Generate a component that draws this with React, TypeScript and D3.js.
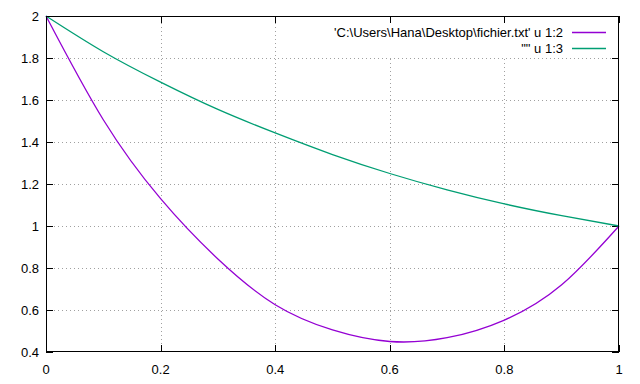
import * as d3 from "d3";
import { useEffect, useRef } from "react";

const xValues = [0, 0.1, 0.2, 0.3, 0.4, 0.5, 0.6, 0.7, 0.8, 0.9, 1.0];
const col2 = [2.0, 1.506, 1.13, 0.843, 0.625, 0.505, 0.45, 0.468, 0.552, 0.72, 1.0];
const col3 = [2.0, 1.83, 1.685, 1.555, 1.443, 1.34, 1.25, 1.172, 1.105, 1.049, 1.0];
const xTicks = [0, 0.2, 0.4, 0.6, 0.8, 1];
const yTicks = [0.4, 0.6, 0.8, 1, 1.2, 1.4, 1.6, 1.8, 2];
const seriesNames = ["'C:\\Users\\Hana\\Desktop\\fichier.txt' u 1:2", "\"\" u 1:3"];
const seriesColors = ["#9400d3", "#009e73"];

const App = () => {
  const ref = useRef<SVGSVGElement | null>(null);

  useEffect(() => {
    const svg = d3.select(ref.current);
    svg.selectAll("*").remove();

    const width = 640;
    const height = 384;
    const margin = { top: 16, right: 21, bottom: 32, left: 46 };
    const font = "'Liberation Sans', Arial, sans-serif";
    const fontSize = "13px";

    const x = d3.scaleLinear().domain([0, 1]).range([margin.left, width - margin.right]);
    const y = d3.scaleLinear().domain([0.4, 2]).range([height - margin.bottom, margin.top]);

    const [x0, x1] = x.range();
    const [y0, y1] = y.range();

    // grid
    const grid = svg.append("g").attr("stroke", "#a0a0a0").attr("stroke-dasharray", "1,3");
    grid
      .selectAll("line.gx")
      .data(xTicks.slice(1, -1))
      .enter()
      .append("line")
      .attr("x1", (d) => Math.round(x(d)) + 0.5)
      .attr("x2", (d) => Math.round(x(d)) + 0.5)
      .attr("y1", y0)
      .attr("y2", y1);
    grid
      .selectAll("line.gy")
      .data(yTicks.slice(1, -1))
      .enter()
      .append("line")
      .attr("x1", x0)
      .attr("x2", x1)
      .attr("y1", (d) => Math.round(y(d)) + 0.5)
      .attr("y2", (d) => Math.round(y(d)) + 0.5);

    // key background hides the grid behind it
    svg
      .append("rect")
      .attr("x", 326)
      .attr("y", y1 + 1)
      .attr("width", x1 - 326 - 1)
      .attr("height", 40)
      .attr("fill", "white");

    // ticks on all four sides
    const ticks = svg.append("g").attr("stroke", "black").attr("stroke-width", 1);
    xTicks.forEach((t) => {
      const px = Math.round(x(t)) + 0.5;
      ticks.append("line").attr("x1", px).attr("x2", px).attr("y1", y0).attr("y2", y0 - 7);
      ticks.append("line").attr("x1", px).attr("x2", px).attr("y1", y1).attr("y2", y1 + 7);
    });
    yTicks.forEach((t) => {
      const py = Math.round(y(t)) + 0.5;
      ticks.append("line").attr("x1", x0).attr("x2", x0 + 7).attr("y1", py).attr("y2", py);
      ticks.append("line").attr("x1", x1).attr("x2", x1 - 7).attr("y1", py).attr("y2", py);
    });

    // tick labels
    svg
      .selectAll("text.xl")
      .data(xTicks)
      .enter()
      .append("text")
      .attr("x", (d) => x(d))
      .attr("y", 374)
      .attr("text-anchor", "middle")
      .style("font-family", font)
      .style("font-size", fontSize)
      .text((d) => d3.format("")(d));
    svg
      .selectAll("text.yl")
      .data(yTicks)
      .enter()
      .append("text")
      .attr("x", 39)
      .attr("y", (d) => y(d) + 4.5)
      .attr("text-anchor", "end")
      .style("font-family", font)
      .style("font-size", fontSize)
      .text((d) => d3.format("")(d));

    // curves
    const line = d3
      .line<number>()
      .x((_, i) => x(xValues[i]))
      .y((d) => y(d))
      .curve(d3.curveNatural);
    [col2, col3].forEach((s, i) => {
      svg
        .append("path")
        .datum(s)
        .attr("fill", "none")
        .attr("stroke", seriesColors[i])
        .attr("stroke-width", 1.3)
        .attr("d", line);
    });

    // key
    seriesNames.forEach((name, i) => {
      const ky = 32 + i * 16;
      svg
        .append("text")
        .attr("x", 563)
        .attr("y", ky + 4.5)
        .attr("text-anchor", "end")
        .style("font-family", font)
        .style("font-size", fontSize)
        .text(name);
      svg
        .append("line")
        .attr("x1", 572)
        .attr("x2", 606)
        .attr("y1", ky + 0.5)
        .attr("y2", ky + 0.5)
        .attr("stroke", seriesColors[i])
        .attr("stroke-width", 1.3);
    });

    // border
    svg
      .append("rect")
      .attr("x", x0 + 0.5)
      .attr("y", y1 + 0.5)
      .attr("width", x1 - x0 - 1)
      .attr("height", y0 - y1 - 1)
      .attr("fill", "none")
      .attr("stroke", "black")
      .attr("stroke-width", 1);
  }, []);

  return (
    <svg
      ref={ref}
      width={640}
      height={384}
      style={{ position: "absolute", left: 0, top: 0, background: "white" }}
    ></svg>
  );
};

export default App;
